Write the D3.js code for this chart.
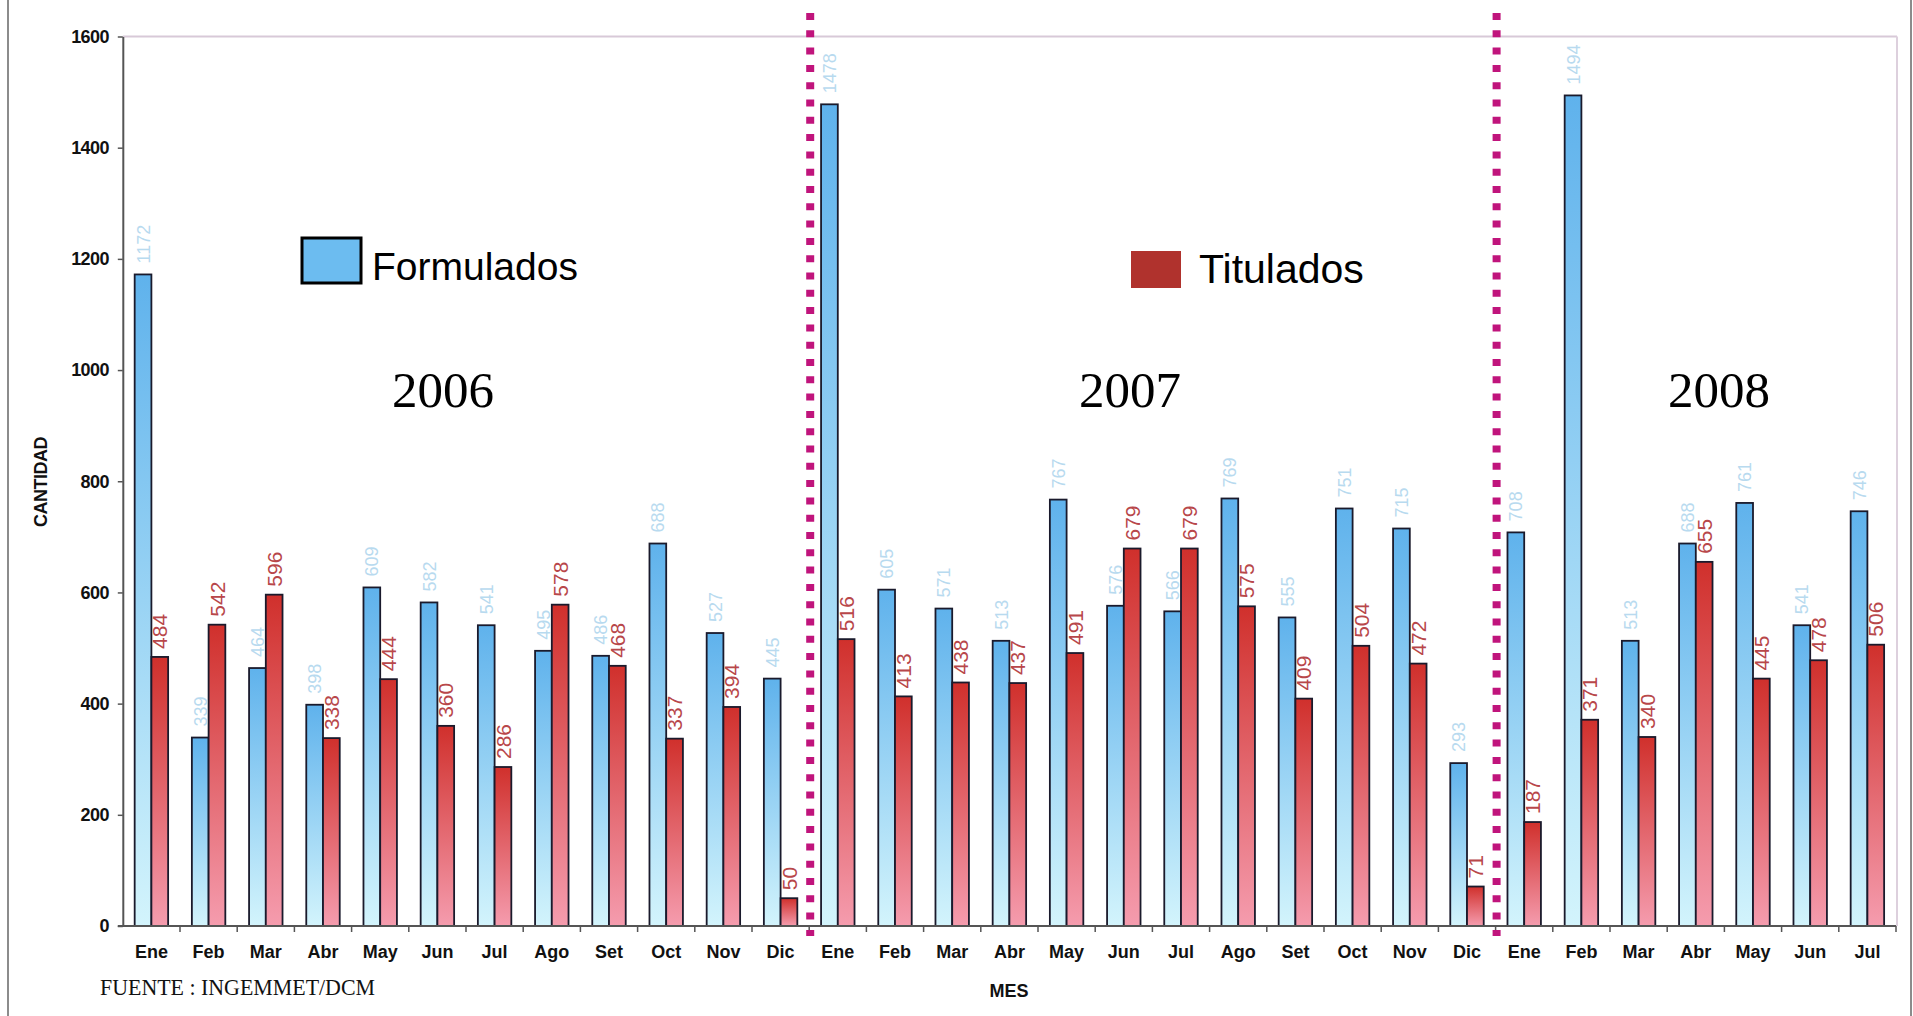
<!DOCTYPE html>
<html>
<head>
<meta charset="utf-8">
<script src="https://cdn.jsdelivr.net/npm/d3@7"></script>
<style>
  html, body { margin: 0; padding: 0; background: #fff; }
  svg { display: block; }
</style>
</head>
<body>
<svg id="chart" width="1913" height="1016"></svg>
<script>
// ---------- DATA ----------
const months2006 = ['Ene','Feb','Mar','Abr','May','Jun','Jul','Ago','Set','Oct','Nov','Dic'];
const months2007 = ['Ene','Feb','Mar','Abr','May','Jun','Jul','Ago','Set','Oct','Nov','Dic'];
const months2008 = ['Ene','Feb','Mar','Abr','May','Jun','Jul'];
const years = ['2006','2007','2008'];
const seriesNames = ['Formulados','Titulados'];
const formulados2006 = [1172, 339, 464, 398, 609, 582, 541, 495, 486, 688, 527, 445];
const formulados2007 = [1478, 605, 571, 513, 767, 576, 566, 769, 555, 751, 715, 293];
const formulados2008 = [708, 1494, 513, 688, 761, 541, 746];
const titulados2006 = [484, 542, 596, 338, 444, 360, 286, 578, 468, 337, 394, 50];
const titulados2007 = [516, 413, 438, 437, 491, 679, 679, 575, 409, 504, 472, 71];
const titulados2008 = [187, 371, 340, 655, 445, 478, 506];
const yTicks = [0, 200, 400, 600, 800, 1000, 1200, 1400, 1600];
const yAxisTitle = 'CANTIDAD';
const xAxisTitle = 'MES';
const sourceNote = 'FUENTE : INGEMMET/DCM';

// ---------- BUILD ROWS ----------
const monthsByYear = [months2006, months2007, months2008];
const formByYear = [formulados2006, formulados2007, formulados2008];
const titByYear = [titulados2006, titulados2007, titulados2008];
const rows = [];
monthsByYear.forEach((ms, yi) => {
  ms.forEach((m, mi) => {
    rows.push({ key: years[yi] + '-' + m, year: years[yi], month: m,
      Formulados: formByYear[yi][mi], Titulados: titByYear[yi][mi] });
  });
});

// ---------- SETUP ----------
const svg = d3.select('#chart');
const W = 1913, H = 1016;
const plot = { left: 122.8, right: 1896, top: 36.5, bottom: 926 };

const x0 = d3.scaleBand().domain(rows.map(d => d.key))
  .range([plot.left, plot.right]).paddingInner(0).paddingOuter(0);
const x1 = d3.scaleBand().domain(seriesNames)
  .range([0, x0.bandwidth()]).paddingInner(0).paddingOuter(0.71);
const y = d3.scaleLinear().domain([0, 1600]).range([plot.bottom, plot.top]);

const defs = svg.append('defs');
const gB = defs.append('linearGradient').attr('id', 'gradBlue')
  .attr('x1', 0).attr('y1', 0).attr('x2', 0).attr('y2', 1);
gB.append('stop').attr('offset', '0%').attr('stop-color', '#5fb2ec');
gB.append('stop').attr('offset', '100%').attr('stop-color', '#d3f4fc');
const gR = defs.append('linearGradient').attr('id', 'gradRed')
  .attr('x1', 0).attr('y1', 0).attr('x2', 0).attr('y2', 1);
gR.append('stop').attr('offset', '0%').attr('stop-color', '#d0302c');
gR.append('stop').attr('offset', '100%').attr('stop-color', '#f59cae');

const fill = { Formulados: 'url(#gradBlue)', Titulados: 'url(#gradRed)' };
const labelColor = { Formulados: '#b8daef', Titulados: '#b8474a' };
const labelSize = { Formulados: 18, Titulados: 21 };
const labelGap = { Formulados: 11, Titulados: 8 };

// Outer frame (vertical edges)
svg.append('line').attr('x1', 8).attr('x2', 8).attr('y1', 0).attr('y2', H)
  .attr('stroke', '#8c8c8c').attr('stroke-width', 2);
svg.append('line').attr('x1', 1911).attr('x2', 1911).attr('y1', 0).attr('y2', H)
  .attr('stroke', '#8c8c8c').attr('stroke-width', 2);

// Plot border (top and right, light)
svg.append('line').attr('x1', plot.left).attr('x2', plot.right + 1)
  .attr('y1', plot.top).attr('y2', plot.top)
  .attr('stroke', '#d8c9d8').attr('stroke-width', 2);
svg.append('line').attr('x1', plot.right + 1).attr('x2', plot.right + 1)
  .attr('y1', plot.top).attr('y2', plot.bottom)
  .attr('stroke', '#ddd0dd').attr('stroke-width', 2);

// ---------- BARS ----------
const groups = svg.append('g').selectAll('g').data(rows).join('g')
  .attr('transform', d => `translate(${x0(d.key)},0)`);
groups.selectAll('rect').data(d => seriesNames.map(s => ({ s, v: d[s] }))).join('rect')
  .attr('x', d => x1(d.s))
  .attr('y', d => y(d.v))
  .attr('width', x1.bandwidth())
  .attr('height', d => y(0) - y(d.v))
  .attr('fill', d => fill[d.s])
  .attr('stroke', '#1a1a2c')
  .attr('stroke-width', 1.8);

// Value labels (rotated)
groups.selectAll('text').data(d => seriesNames.map(s => ({ s, v: d[s] }))).join('text')
  .attr('transform', d => {
    const cx = x1(d.s) + x1.bandwidth() / 2;
    const cy = y(d.v) - labelGap[d.s];
    return `translate(${cx},${cy}) rotate(-90)`;
  })
  .attr('dy', '0.36em')
  .attr('text-anchor', 'start')
  .attr('font-family', 'Liberation Sans, Arial, sans-serif')
  .attr('font-size', d => labelSize[d.s])
  .attr('fill', d => labelColor[d.s])
  .text(d => d.v);

// ---------- AXES ----------
const yAxis = d3.axisLeft(y).tickValues(yTicks).tickFormat(d3.format('d'))
  .tickSize(5).tickSizeOuter(0).tickPadding(9);
const gy = svg.append('g').attr('transform', `translate(${plot.left},0)`).call(yAxis);
gy.select('.domain').attr('stroke', '#555').attr('stroke-width', 2);
gy.selectAll('.tick line').attr('stroke', '#555').attr('stroke-width', 1.5);
gy.selectAll('.tick text').attr('font-family', 'Liberation Sans, Arial, sans-serif')
  .attr('font-size', 18).attr('font-weight', 'bold').attr('fill', '#111')
  .attr('letter-spacing', -0.6);

const xAxis = d3.axisBottom(x0).tickSize(0).tickPadding(19).tickSizeOuter(0)
  .tickFormat(k => rows.find(r => r.key === k).month);
const gx = svg.append('g').attr('transform', `translate(0,${plot.bottom})`).call(xAxis);
gx.select('.domain').attr('stroke', '#555').attr('stroke-width', 2)
  .attr('d', `M${plot.left - 5},0H${plot.right}`);
gx.selectAll('.tick text').attr('font-family', 'Liberation Sans, Arial, sans-serif')
  .attr('font-size', 18).attr('font-weight', 'bold').attr('fill', '#111');
// boundary ticks
const bounds = rows.map(d => x0(d.key)).slice(1).concat([plot.right]);
svg.append('g').selectAll('line').data(bounds).join('line')
  .attr('x1', d => d).attr('x2', d => d)
  .attr('y1', plot.bottom).attr('y2', plot.bottom + 6)
  .attr('stroke', '#555').attr('stroke-width', 1.5);

// ---------- YEAR SEPARATORS ----------
['2007-Ene', '2008-Ene'].forEach(k => {
  const xx = x0(k) + 1;
  svg.append('line').attr('x1', xx).attr('x2', xx)
    .attr('y1', 13).attr('y2', 936)
    .attr('stroke', '#c0147c').attr('stroke-width', 8)
    .attr('stroke-dasharray', '7,10.3');
});

// ---------- TEXTS ----------
// Axis titles
svg.append('text')
  .attr('transform', `translate(47,482) rotate(-90)`)
  .attr('text-anchor', 'middle')
  .attr('font-family', 'Liberation Sans, Arial, sans-serif')
  .attr('font-size', 18).attr('font-weight', 'bold').attr('fill', '#111')
  .attr('letter-spacing', -0.5)
  .text(yAxisTitle);
svg.append('text').attr('x', 1009).attr('y', 997).attr('text-anchor', 'middle')
  .attr('font-family', 'Liberation Sans, Arial, sans-serif')
  .attr('font-size', 18).attr('font-weight', 'bold').attr('fill', '#111')
  .text(xAxisTitle);
svg.append('text').attr('x', 100).attr('y', 995)
  .attr('font-family', 'Liberation Serif, Times New Roman, serif')
  .attr('font-size', 24).attr('fill', '#111')
  .attr('textLength', 275).attr('lengthAdjust', 'spacingAndGlyphs')
  .text(sourceNote);

// Year labels
const yearCenters = [443, 1130, 1719];
years.forEach((yr, i) => {
  svg.append('text').attr('x', yearCenters[i]).attr('y', 407).attr('text-anchor', 'middle')
    .attr('font-family', 'Liberation Serif, Times New Roman, serif')
    .attr('font-size', 51).attr('fill', '#000')
    .text(yr);
});

// Legend
svg.append('rect').attr('x', 302).attr('y', 238).attr('width', 59).attr('height', 45)
  .attr('fill', '#6cbcf0').attr('stroke', '#000').attr('stroke-width', 3);
svg.append('text').attr('x', 372).attr('y', 280)
  .attr('font-family', 'Liberation Sans, Arial, sans-serif')
  .attr('font-size', 39).attr('fill', '#000').text(seriesNames[0]);
svg.append('rect').attr('x', 1131).attr('y', 251).attr('width', 50).attr('height', 37)
  .attr('fill', '#b0322d');
svg.append('text').attr('x', 1199).attr('y', 283)
  .attr('font-family', 'Liberation Sans, Arial, sans-serif')
  .attr('font-size', 41).attr('fill', '#000').text(seriesNames[1]);
</script>
</body>
</html>
